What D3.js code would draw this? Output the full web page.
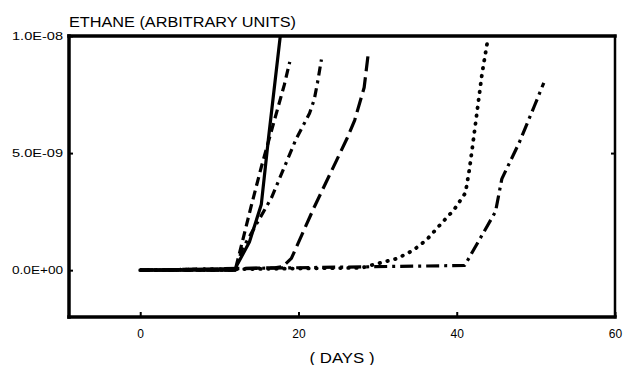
<!DOCTYPE html>
<html>
<head>
<meta charset="utf-8">
<script src="https://cdn.jsdelivr.net/npm/d3@7"></script>
<style>
  body { margin: 0; background: #fff; }
  text { font-family: "Liberation Sans", Arial, sans-serif; fill: #000; }
</style>
</head>
<body>
<div id="chart"></div>
<script>
// values (days, ethane in arbitrary units)
const solidDays = [0, 12, 12.2, 13.8, 15.3, 16.2, 17.7];
const solidVals = [0, 0, 0.2e-9, 1.2e-9, 2.8e-9, 5.6e-9, 10e-9];

const dashADays = [0, 12, 12.6, 14, 15.3, 18.2, 18.9];
const dashAVals = [0, 0, 0.8e-9, 2.7e-9, 4.4e-9, 7.9e-9, 8.9e-9];

const dashDotBDays = [0, 12, 12.9, 16.6, 19.7, 21.4, 22.0, 22.4, 22.9];
const dashDotBVals = [0, 0, 0.9e-9, 3.1e-9, 5.6e-9, 6.7e-9, 7.3e-9, 8.0e-9, 9.0e-9];

const dashCDays = [0, 17, 18, 19.1, 22.0, 26.1, 27.1, 28.3, 28.8];
const dashCVals = [0, 0.1e-9, 0.15e-9, 0.5e-9, 2.7e-9, 5.6e-9, 6.4e-9, 7.8e-9, 9.2e-9];

const dotDDays = [0, 28, 30.2, 32.5, 34.5, 36.2, 37.8, 39.7, 41.1, 41.6, 42.0, 42.6, 43.2, 43.9];
const dotDVals = [0, 0.1e-9, 0.3e-9, 0.5e-9, 0.85e-9, 1.3e-9, 1.9e-9, 2.6e-9, 3.3e-9, 4.3e-9, 5.3e-9, 6.85e-9, 8.4e-9, 9.8e-9];

const dashDotEDays = [0, 19, 41, 44.9, 45.7, 47.9, 49.8, 51.0];
const dashDotEVals = [0, 0.1e-9, 0.2e-9, 2.5e-9, 3.9e-9, 5.45e-9, 7.0e-9, 8.0e-9];

const xTicks = [0, 20, 40, 60];
const yTicks = [0, 5e-9, 1e-8];
const yTickLabels = ["0.0E+00", "5.0E-09", "1.0E-08"];

const series = [
  {days: solidDays, vals: solidVals, dash: null, w: 3.2},
  {days: dashADays, vals: dashAVals, dash: "9,5", w: 3.2},
  {days: dashDotBDays, vals: dashDotBVals, dash: "9,5,3,5", w: 3.2},
  {days: dashCDays, vals: dashCVals, dash: "15,6", w: 3.2},
  {days: dotDDays, vals: dotDVals, dash: "0.5,7.5", w: 3.8, round: true},
  {days: dashDotEDays, vals: dashDotEVals, dash: "13,5,3,5", w: 3.2},
];

const width = 623, height = 365;
const mLeft = 69, mRight = 615, mTop = 36, mBottom = 317;

const x = d3.scaleLinear().domain([-9, 60]).range([mLeft, mRight]);
const y = d3.scaleLinear().domain([-2e-9, 1e-8]).range([mBottom, mTop]);

const svg = d3.select("#chart").append("svg")
  .attr("width", width)
  .attr("height", height)
  .attr("viewBox", [0, 0, width, height]);

svg.append("clipPath").attr("id", "clip")
  .append("rect")
  .attr("x", mLeft).attr("y", mTop)
  .attr("width", mRight - mLeft).attr("height", mBottom - mTop);

const line = d3.line()
  .x(d => x(d[0]))
  .y(d => y(d[1]));

const lines = svg.append("g").attr("clip-path", "url(#clip)");
series.forEach(s => {
  lines.append("path")
    .datum(d3.zip(s.days, s.vals))
    .attr("fill", "none")
    .attr("stroke", "#000")
    .attr("stroke-width", s.w)
    .attr("stroke-linecap", s.round ? "round" : "butt")
    .attr("stroke-linejoin", "round")
    .attr("stroke-dasharray", s.dash)
    .attr("d", line);
});

// axes: ticks and labels only, frame drawn separately
const xAxis = svg.append("g")
  .attr("transform", `translate(0,${mBottom})`)
  .call(d3.axisBottom(x).tickValues(xTicks).tickSizeInner(-5).tickSizeOuter(0).tickPadding(12));
xAxis.select(".domain").remove();
xAxis.selectAll(".tick line").attr("stroke", "#000").attr("stroke-width", 2);
xAxis.selectAll(".tick text")
  .attr("font-size", 12)
  .attr("font-family", "Liberation Sans, Arial, sans-serif");

const yAxis = svg.append("g")
  .attr("transform", `translate(${mLeft},0)`)
  .call(d3.axisLeft(y).tickValues(yTicks).tickFormat((d, i) => yTickLabels[i])
    .tickSizeInner(-4).tickSizeOuter(0).tickPadding(6));
yAxis.select(".domain").remove();
yAxis.selectAll(".tick line").attr("stroke", "#000").attr("stroke-width", 2);
yAxis.selectAll(".tick text")
  .attr("font-size", 11)
  .attr("font-family", "Liberation Sans, Arial, sans-serif")
  .attr("textLength", 51)
  .attr("lengthAdjust", "spacingAndGlyphs");

const yRight = svg.append("g")
  .attr("transform", `translate(${mRight},0)`)
  .call(d3.axisRight(y).tickValues([5e-9]).tickSizeInner(-4).tickSizeOuter(0).tickFormat(""));
yRight.select(".domain").remove();
yRight.selectAll(".tick line").attr("stroke", "#000").attr("stroke-width", 2);

// frame
const frame = svg.append("g").attr("stroke", "#000").attr("stroke-linecap", "square");
frame.append("line").attr("x1", mLeft).attr("x2", mRight).attr("y1", mTop).attr("y2", mTop).attr("stroke-width", 3.5);
frame.append("line").attr("x1", mLeft).attr("x2", mRight).attr("y1", mBottom).attr("y2", mBottom).attr("stroke-width", 3.5);
frame.append("line").attr("x1", mLeft).attr("x2", mLeft).attr("y1", mTop).attr("y2", mBottom).attr("stroke-width", 3.5);
frame.append("line").attr("x1", mRight).attr("x2", mRight).attr("y1", mTop).attr("y2", mBottom).attr("stroke-width", 2.5);

svg.append("text")
  .attr("x", mLeft)
  .attr("y", 27)
  .attr("font-size", 14)
  .attr("textLength", 227)
  .attr("lengthAdjust", "spacingAndGlyphs")
  .text("ETHANE (ARBITRARY UNITS)");

svg.append("text")
  .attr("x", 342)
  .attr("y", 363)
  .attr("text-anchor", "middle")
  .attr("font-size", 14)
  .attr("textLength", 65)
  .attr("lengthAdjust", "spacingAndGlyphs")
  .text("( DAYS )");
</script>
</body>
</html>
